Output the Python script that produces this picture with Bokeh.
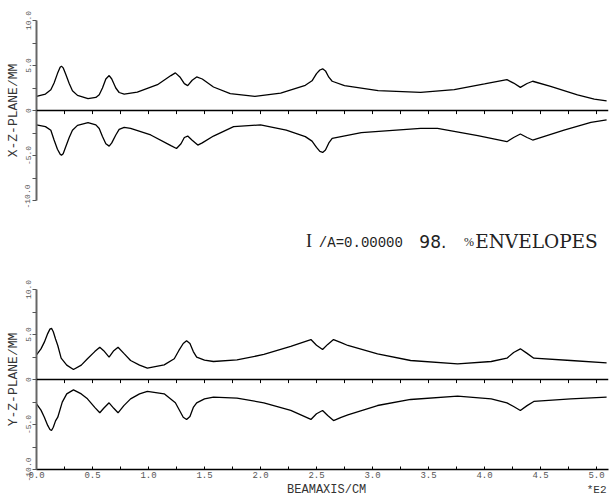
from bokeh.plotting import figure
from bokeh.layouts import column
from bokeh.models import Range1d, FixedTicker, Span
from bokeh.core.properties import value
from bokeh.embed import file_html
from bokeh.resources import INLINE

# ---------------- data (beam axis in units of 1E2 cm, envelopes in mm) -------------
xz_up_x = [0.0, 0.08, 0.128, 0.157, 0.187, 0.211, 0.223, 0.238, 0.262, 0.292, 0.321, 0.366, 0.46, 0.53,
           0.56, 0.589, 0.619, 0.649, 0.672, 0.708, 0.738, 0.783, 0.90, 1.08, 1.20, 1.24, 1.28, 1.32, 1.35,
           1.39, 1.43, 1.48, 1.58, 1.73, 1.95, 2.18, 2.40, 2.46, 2.50, 2.53, 2.555, 2.58, 2.61, 2.64,
           2.75, 3.05, 3.43, 3.73, 4.0, 4.2, 4.26, 4.32, 4.38, 4.43, 4.59, 4.83, 4.98, 5.09]
xz_up_y = [1.57, 1.83, 2.3, 3.06, 4.1, 4.8, 4.93, 4.74, 3.99, 3.0, 2.2, 1.68, 1.31, 1.45,
           1.74, 2.5, 3.5, 3.88, 3.5, 2.5, 2.0, 1.83, 2.05, 2.87, 3.88, 4.18, 3.73, 2.98, 2.76,
           3.36, 3.73, 3.5, 2.61, 1.87, 1.57, 1.94, 2.8, 3.3, 4.1, 4.5, 4.63, 4.4, 3.7, 3.25,
           2.76, 2.2, 2.02, 2.31, 2.95, 3.43, 3.05, 2.57, 3.0, 3.25, 2.69, 1.74, 1.27, 1.08]

xz_lo_x = [0.0, 0.08, 0.128, 0.157, 0.187, 0.211, 0.223, 0.238, 0.262, 0.292, 0.321, 0.366, 0.46, 0.53,
           0.56, 0.589, 0.619, 0.649, 0.672, 0.708, 0.738, 0.783, 0.84, 1.02, 1.20, 1.25, 1.29, 1.32, 1.35,
           1.39, 1.44, 1.48, 1.58, 1.76, 2.0, 2.23, 2.40, 2.46, 2.50, 2.53, 2.555, 2.58, 2.61, 2.64,
           2.90, 3.43, 3.58, 3.94, 4.2, 4.26, 4.32, 4.38, 4.43, 4.71, 4.95, 5.09]
xz_lo_y = [-1.6, -1.79, -2.2, -3.28, -4.3, -4.85, -4.96, -4.8, -4.0, -3.0, -2.2, -1.65, -1.34, -1.6,
           -2.0, -2.9, -3.7, -3.96, -3.6, -2.72, -2.1, -1.87, -1.98, -2.72, -3.9, -4.22, -3.7, -3.0, -2.84,
           -3.3, -3.84, -3.6, -2.84, -1.79, -1.6, -2.17, -2.9, -3.4, -4.1, -4.55, -4.66, -4.4, -3.6, -3.1,
           -2.46, -1.98, -1.98, -2.8, -3.47, -3.0, -2.61, -3.0, -3.28, -2.17, -1.31, -1.05]

yz_up_x = [0.0, 0.04, 0.07, 0.10, 0.12, 0.134, 0.15, 0.17, 0.19, 0.22, 0.27, 0.33, 0.40, 0.455, 0.52,
           0.565, 0.60, 0.648, 0.69, 0.728, 0.78, 0.84, 0.92, 0.99, 1.14, 1.23, 1.27, 1.31, 1.34, 1.37,
           1.40, 1.43, 1.50, 1.58, 1.79, 2.03, 2.27, 2.45, 2.50, 2.554, 2.60, 2.652, 2.72, 2.78,
           3.045, 3.34, 3.76, 4.06, 4.2, 4.26, 4.32, 4.38, 4.44, 4.77, 5.09]
yz_up_y = [2.74, 3.4, 4.15, 5.1, 5.6, 5.7, 5.3, 4.5, 3.78, 2.37, 1.6, 1.11, 1.6, 2.3, 3.1,
           3.59, 3.2, 2.48, 3.2, 3.59, 2.9, 2.11, 1.6, 1.26, 1.63, 2.3, 3.2, 4.0, 4.3, 4.0,
           3.1, 2.48, 2.15, 2.0, 2.18, 2.78, 3.67, 4.44, 3.8, 3.33, 3.9, 4.44, 4.1, 3.78,
           2.85, 2.11, 1.74, 2.0, 2.37, 3.0, 3.41, 2.9, 2.37, 2.11, 1.85]

yz_lo_x = [0.0, 0.04, 0.07, 0.10, 0.12, 0.134, 0.15, 0.17, 0.19, 0.23, 0.27, 0.33, 0.40, 0.455, 0.52,
           0.565, 0.60, 0.648, 0.69, 0.728, 0.78, 0.84, 0.92, 0.99, 1.14, 1.24, 1.28, 1.31, 1.34, 1.37,
           1.40, 1.43, 1.50, 1.58, 1.79, 2.03, 2.27, 2.45, 2.50, 2.554, 2.60, 2.652, 2.72, 2.78,
           3.045, 3.34, 3.76, 4.06, 4.2, 4.26, 4.32, 4.38, 4.44, 4.77, 5.09]
yz_lo_y = [-2.7, -3.4, -4.19, -5.1, -5.55, -5.67, -5.3, -4.6, -4.19, -2.52, -1.6, -1.15, -1.6, -2.15, -3.1,
           -3.7, -3.2, -2.59, -3.2, -3.7, -2.9, -2.15, -1.6, -1.33, -1.59, -2.59, -3.5, -4.2, -4.44, -4.1,
           -3.1, -2.59, -2.15, -1.96, -2.07, -2.59, -3.44, -4.44, -3.8, -3.44, -4.0, -4.56, -4.2, -3.93,
           -2.89, -2.22, -1.85, -2.15, -2.59, -3.0, -3.44, -2.9, -2.44, -2.15, -1.96]

y_major_ticks = [-10, -5, 0, 5, 10]
y_minor_ticks = [-7.5, -2.5, 2.5, 7.5]
x_major_ticks = [0.0, 0.5, 1.0, 1.5, 2.0, 2.5, 3.0, 3.5, 4.0, 4.5, 5.0]
x_minor_ticks = [0.25, 0.75, 1.25, 1.75, 2.25, 2.75, 3.25, 3.75, 4.25, 4.75]
x_max = 5.107
x_strip_max = 5.125

title_parts = ["I", "/A=0.00000", "98.", "%", "ENVELOPES"]
x_title = ["BEAMAXIS/CM", "*E2"]

MONO = "Liberation Mono"
SERIF = "Liberation Serif"
INK = "#222222"


def make_panel(ylabel, height, top_border, bottom_border, with_xaxis):
    p = figure(width=610, height=height, output_backend="svg", toolbar_location=None,
               x_range=Range1d(0, x_max), y_range=Range1d(-10, 10),
               x_axis_location="below" if with_xaxis else None,
               min_border_left=36, min_border_right=2, min_border_top=top_border,
               min_border_bottom=bottom_border)
    p.outline_line_color = None
    p.grid.visible = False
    p.background_fill_color = "white"
    p.border_fill_color = "white"

    ya = p.yaxis[0]
    ya.ticker = FixedTicker(ticks=y_major_ticks, minor_ticks=y_minor_ticks)
    ya.major_label_overrides = {0: "0", 5: "5.0", 10: "10.0", -5: "-5.0", -10: "-10.0"}
    ya.major_label_orientation = "vertical"
    ya.major_label_text_font = MONO
    ya.major_label_text_font_size = "8px"
    ya.major_label_text_color = "#555555"
    ya.major_label_standoff = 2
    ya.axis_line_color = "#666666"
    ya.axis_line_width = 2
    ya.major_tick_in = 0
    ya.major_tick_out = 4
    ya.minor_tick_in = 0
    ya.minor_tick_out = 4
    ya.major_tick_line_color = "#555555"
    ya.minor_tick_line_color = "#555555"
    ya.axis_label = ylabel
    ya.axis_label_text_font = MONO
    ya.axis_label_text_font_size = "13px"
    ya.axis_label_text_font_style = "normal"
    ya.axis_label_text_color = "#333333"
    ya.axis_label_standoff = 2

    if with_xaxis:
        xa = p.xaxis[0]
        xa.ticker = FixedTicker(ticks=x_major_ticks, minor_ticks=x_minor_ticks)
        xa.major_label_overrides = {t: f"{t:.1f}" for t in x_major_ticks}
        xa.major_label_text_font = MONO
        xa.major_label_text_font_size = "9px"
        xa.major_label_text_color = "#555555"
        xa.major_label_standoff = 2
        xa.axis_line_color = "black"
        xa.axis_line_width = 1.5
        xa.major_tick_in = 3
        xa.major_tick_out = 0
        xa.minor_tick_in = 3
        xa.minor_tick_out = 0

    # zero axis with ticks below it
    p.add_layout(Span(location=0, dimension="width", line_color="black", line_width=1.5))
    ticks = x_major_ticks + x_minor_ticks
    p.segment(x0=ticks, y0=[0] * len(ticks), x1=ticks, y1=[-0.4] * len(ticks),
              line_color="black", line_width=1)
    return p


def make_strip(height):
    s = figure(width=610, height=height, output_backend="svg", toolbar_location=None,
               x_range=Range1d(0, x_strip_max), y_range=Range1d(0, height),
               x_axis_location=None, y_axis_location=None,
               min_border_left=36, min_border_right=0, min_border_top=0, min_border_bottom=0)
    s.outline_line_color = None
    s.grid.visible = False
    s.background_fill_color = "white"
    s.border_fill_color = "white"
    return s


# top panel (frame from y=20 to y=200)
p1 = make_panel("X-Z-PLANE/MM", 208, 20, 8, False)
p1.line(xz_up_x, xz_up_y, line_color="black", line_width=1.3)
p1.line(xz_lo_x, xz_lo_y, line_color="black", line_width=1.3)

# title strip (y=208..268): I /A=0.00000 98. % ENVELOPES
t = make_strip(60)
mid = 27.5
t.text(x=[2.414], y=[mid], text=[title_parts[0]], text_font=value(SERIF), text_font_size="18px",
       text_color=INK, text_baseline="middle")
t.text(x=[2.53], y=[mid - 2], text=[title_parts[1]], text_font=value(MONO), text_font_size="14px",
       text_color=INK, text_baseline="middle")
t.text(x=[3.43], y=[mid], text=[title_parts[2]], text_font=value("DejaVu Sans"), text_font_size="17px",
       text_color=INK, text_baseline="middle")
t.text(x=[3.83], y=[mid - 1], text=[title_parts[3]], text_font=value(SERIF), text_font_size="12px",
       text_color=INK, text_baseline="middle")
t.text(x=[3.93], y=[mid - 0.5], text=[title_parts[4]], text_font=value("DejaVu Serif"), text_font_size="18.5px",
       text_color=INK, text_baseline="middle")

# bottom panel (frame from y=289 to y=469)
p2 = make_panel("Y-Z-PLANE/MM", 214, 21, 13, True)
p2.line(yz_up_x, yz_up_y, line_color="black", line_width=1.3)
p2.line(yz_lo_x, yz_lo_y, line_color="black", line_width=1.3)

# x-axis title strip (y=482..496)
b = make_strip(14)
b.text(x=[2.60], y=[6.8], text=[x_title[0]], text_font=value(MONO), text_font_size="12px",
       text_color="#333333", text_align="center", text_baseline="middle")
b.text(x=[4.93], y=[6.8], text=[x_title[1]], text_font=value(MONO), text_font_size="11px",
       text_color="#333333", text_align="left", text_baseline="middle")

layout = column(p1, t, p2, b, spacing=0)
open("out.html", "w").write(file_html(layout, INLINE))
